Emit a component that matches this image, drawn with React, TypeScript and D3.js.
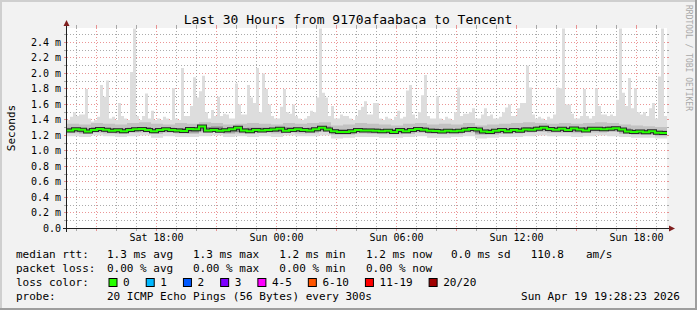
import React from "react";
import * as d3 from "d3";

const W = 697;
const H = 310;

// time window (30 hours)
const startTime = new Date(2026, 3, 18, 13, 31, 30);
const endTime = new Date(2026, 3, 19, 19, 31, 30);

// max ping per 9-minute bucket (ms)
const maxMs = [
  1.40, 1.44, 1.50, 1.45, 1.47, 1.47, 1.80, 1.42, 1.38, 1.40,
  1.44, 1.85, 1.70, 1.91, 1.42, 1.44, 1.40, 1.62, 1.45, 1.42,
  1.40, 2.02, 2.58, 1.45, 1.40, 1.45, 1.74, 1.42, 1.52, 1.40,
  1.42, 1.40, 1.44, 1.42, 1.40, 1.81, 1.42, 1.40, 2.07, 1.45,
  1.45, 1.58, 1.95, 1.69, 1.77, 1.97, 1.50, 1.42, 1.53, 1.45,
  1.70, 1.45, 1.48, 1.47, 1.42, 1.42, 1.87, 1.60, 1.47, 1.47,
  1.85, 1.69, 1.62, 2.07, 1.50, 2.00, 1.80, 1.60, 1.45, 1.42,
  1.42, 1.57, 1.80, 1.50, 1.48, 1.60, 1.45, 1.42, 1.40, 1.42,
  1.45, 1.52, 1.50, 1.69, 2.58, 1.75, 1.69, 1.45, 1.58, 1.42,
  1.42, 1.47, 1.45, 1.45, 1.42, 1.40, 1.45, 1.53, 1.57, 1.64,
  1.47, 1.47, 1.62, 1.62, 1.42, 1.40, 1.44, 1.42, 1.40, 1.44,
  1.52, 1.42, 1.44, 1.78, 1.85, 1.47, 1.42, 1.50, 1.72, 1.98,
  1.45, 1.42, 1.42, 1.71, 1.42, 1.40, 1.44, 1.42, 1.40, 1.50,
  1.82, 1.45, 1.48, 1.48, 1.50, 1.55, 1.42, 1.42, 1.47, 1.55,
  1.45, 1.47, 1.42, 1.42, 1.44, 1.50, 1.56, 1.60, 1.45, 1.45,
  1.55, 1.62, 1.62, 2.10, 1.82, 1.47, 1.42, 1.44, 1.42, 1.40,
  1.44, 1.42, 1.47, 1.82, 1.81, 2.58, 1.60, 1.60, 1.48, 1.42,
  1.42, 1.45, 1.80, 1.45, 1.42, 1.45, 1.81, 1.58, 1.47, 1.47,
  1.45, 1.47, 1.45, 1.66, 2.58, 1.75, 1.58, 1.94, 1.55, 1.81,
  1.50, 1.47, 1.50, 1.45, 1.55, 1.62, 1.42, 1.96, 2.58, 1.45,
];

// median rtt per 18-minute bucket (ms)
const medianMs = [
  1.265, 1.28, 1.275, 1.25, 1.27, 1.285, 1.275, 1.262, 1.268, 1.255,
  1.27, 1.28, 1.285, 1.27, 1.255, 1.272, 1.28, 1.272, 1.265, 1.258,
  1.285, 1.28, 1.315, 1.265, 1.272, 1.26, 1.268, 1.28, 1.30, 1.265,
  1.255, 1.272, 1.265, 1.272, 1.278, 1.286, 1.262, 1.27, 1.28, 1.272,
  1.265, 1.28, 1.30, 1.278, 1.255, 1.245, 1.245, 1.255, 1.272, 1.265,
  1.265, 1.262, 1.255, 1.262, 1.245, 1.272, 1.255, 1.272, 1.285, 1.273,
  1.262, 1.258, 1.252, 1.26, 1.255, 1.262, 1.273, 1.285, 1.278, 1.25,
  1.245, 1.262, 1.272, 1.255, 1.272, 1.26, 1.278, 1.273, 1.286, 1.30,
  1.282, 1.273, 1.286, 1.27, 1.29, 1.278, 1.265, 1.286, 1.286, 1.28,
  1.286, 1.292, 1.278, 1.252, 1.245, 1.25, 1.243, 1.255, 1.234, 1.232,
];

// smoke bands per 36-minute bucket (ms)
const p90Ms = [
  1.35, 1.34, 1.36, 1.35, 1.34, 1.36, 1.37, 1.35, 1.34, 1.36,
  1.35, 1.37, 1.36, 1.34, 1.35, 1.36, 1.35, 1.34, 1.36, 1.35,
  1.36, 1.37, 1.33, 1.34, 1.36, 1.35, 1.34, 1.33, 1.35, 1.36,
  1.34, 1.35, 1.34, 1.36, 1.33, 1.34, 1.35, 1.36, 1.37, 1.36,
  1.35, 1.36, 1.35, 1.36, 1.37, 1.36, 1.34, 1.33, 1.32, 1.31,
];
const p75Ms = [
  1.30, 1.29, 1.305, 1.295, 1.29, 1.30, 1.31, 1.29, 1.30, 1.295,
  1.29, 1.31, 1.315, 1.29, 1.295, 1.30, 1.30, 1.29, 1.305, 1.295,
  1.30, 1.315, 1.28, 1.28, 1.295, 1.29, 1.285, 1.285, 1.29, 1.305,
  1.29, 1.285, 1.285, 1.31, 1.275, 1.28, 1.29, 1.295, 1.31, 1.315,
  1.305, 1.305, 1.30, 1.31, 1.31, 1.315, 1.29, 1.275, 1.275, 1.26,
];
const p25Ms = [
  1.25, 1.24, 1.255, 1.245, 1.24, 1.25, 1.26, 1.242, 1.255, 1.245,
  1.24, 1.26, 1.268, 1.24, 1.245, 1.248, 1.252, 1.245, 1.255, 1.245,
  1.252, 1.265, 1.228, 1.228, 1.245, 1.242, 1.235, 1.236, 1.242, 1.256,
  1.238, 1.234, 1.236, 1.26, 1.226, 1.23, 1.242, 1.248, 1.26, 1.268,
  1.255, 1.256, 1.25, 1.26, 1.26, 1.266, 1.242, 1.224, 1.226, 1.21,
];
const p10Ms = [
  1.23, 1.22, 1.235, 1.225, 1.22, 1.235, 1.24, 1.22, 1.235, 1.225,
  1.22, 1.24, 1.245, 1.22, 1.225, 1.23, 1.235, 1.225, 1.235, 1.225,
  1.23, 1.245, 1.21, 1.21, 1.225, 1.22, 1.215, 1.215, 1.22, 1.235,
  1.22, 1.215, 1.215, 1.24, 1.205, 1.21, 1.22, 1.225, 1.24, 1.245,
  1.235, 1.235, 1.23, 1.24, 1.24, 1.245, 1.22, 1.205, 1.205, 1.19,
];
const minMs = [
  1.19, 1.18, 1.20, 1.19, 1.18, 1.19, 1.20, 1.17, 1.19, 1.18,
  1.18, 1.19, 1.20, 1.18, 1.19, 1.18, 1.19, 1.18, 1.20, 1.19,
  1.19, 1.20, 1.16, 1.17, 1.18, 1.18, 1.17, 1.17, 1.18, 1.19,
  1.17, 1.17, 1.18, 1.19, 1.16, 1.17, 1.18, 1.18, 1.19, 1.20,
  1.19, 1.19, 1.18, 1.19, 1.20, 1.19, 1.18, 1.17, 1.17, 1.16,
];

const yMaxMs = 2.58;
const yTickValues = [0, 0.2, 0.4, 0.6, 0.8, 1.0, 1.2, 1.4, 1.6, 1.8, 2.0, 2.2, 2.4];

const title = "Last 30 Hours from 9170afaabaca to Tencent";
const yLabel = "Seconds";
const credit = "RRDTOOL / TOBI OETIKER";

const rttLabel = "median rtt:";
const rttStats = ["1.3 ms avg", "1.3 ms max", "1.2 ms min", "1.2 ms now", "0.0 ms sd", "110.8", "am/s"];
const lossLabel = "packet loss:";
const lossStats = ["0.00 % avg", "0.00 % max", "0.00 % min", "0.00 % now"];
const colorLabel = "loss color:";
const lossLabels = ["0", "1", "2", "3", "4-5", "6-10", "11-19", "20/20"];
const lossColors = ["#26ff00", "#00b8ff", "#0059ff", "#7e00ff", "#ff00ff", "#ff5500", "#ff0000", "#a00000"];
const probeLabel = "probe:";
const probeText = "20 ICMP Echo Pings (56 Bytes) every 300s";
const dateText = "Sun Apr 19 19:28:23 2026";

// layout
const X0 = 67;
const X1 = 667;
const Y0 = 228.5;
const Y1 = 28.5;
const statCols = [107, 193, 279.3, 366, 451, 530.7, 586];
const FONT = "'DejaVu Sans Mono', monospace";

type Pt = { t: Date; lo: number; hi: number };

function stepPoints(hi: number[], lo: (i: number) => number): Pt[] {
  const n = hi.length;
  const dt = (endTime.getTime() - startTime.getTime()) / n;
  const pts: Pt[] = hi.map((v, i) => ({ t: new Date(startTime.getTime() + i * dt), lo: lo(i), hi: v }));
  pts.push({ t: endTime, lo: lo(n - 1), hi: hi[n - 1] });
  return pts;
}

export default function App() {
  const x = d3.scaleTime().domain([startTime, endTime]).range([X0, X1]);
  const y = d3.scaleLinear().domain([0, yMaxMs]).range([Y0, Y1]);

  const area = d3
    .area<Pt>()
    .x((d) => x(d.t))
    .y0((d) => y(d.lo))
    .y1((d) => y(d.hi))
    .curve(d3.curveStepAfter);
  const line = d3
    .line<Pt>()
    .x((d) => x(d.t))
    .y((d) => y(d.hi))
    .curve(d3.curveStepAfter);

  const lightPts = stepPoints(maxMs, (i) => minMs[Math.floor((i * minMs.length) / maxMs.length)]);
  const midPts = stepPoints(p90Ms, (i) => p10Ms[i]);
  const darkPts = stepPoints(p75Ms, (i) => p25Ms[i]);
  const medPts = stepPoints(medianMs, () => 0);

  const hGrid = d3.range(1, 26).map((i) => ({ v: i / 10, major: i % 2 === 0 }));
  const hours = d3.timeHour.range(d3.timeHour.ceil(startTime), endTime);
  const fmt = d3.timeFormat("%a %H:%M");

  const gridMinor = "rgba(143,143,143,0.75)";
  const gridMajor = "rgba(222,80,80,0.6)";

  // legend box positions derived from label widths
  const charW = 6.62;
  let bx = 108.5;
  const boxes = lossLabels.map((lab, i) => {
    const cur = bx;
    bx = cur + 14.6 + lab.length * charW + 16;
    return { x: cur, lab, color: lossColors[i] };
  });

  const rowY = [257.5, 271.5, 285.5, 299.5];

  return (
    <svg
      width={W}
      height={H}
      style={{ position: "absolute", left: 0, top: 0, display: "block" }}
      fontFamily={FONT}
    >
      <defs>
        <clipPath id="plot">
          <rect x={X0} y={28} width={X1 - X0} height={200.5} />
        </clipPath>
      </defs>
      <rect x={0} y={0} width={W} height={H} fill="#f2f2f2" />
      {/* 3D border */}
      <rect x={0} y={0} width={W} height={2} fill="#cfcfcf" />
      <rect x={0} y={0} width={2} height={H} fill="#cfcfcf" />
      <rect x={0} y={H - 2} width={W} height={2} fill="#9e9e9e" />
      <rect x={W - 2} y={0} width={2} height={H} fill="#9e9e9e" />

      <rect x={X0} y={28} width={X1 - X0} height={200} fill="#ffffff" />

      {/* horizontal grid (behind data) */}
      {hGrid.map((g) => {
        const yy = Math.round(y(g.v) - 0.5) + 0.5;
        const c = g.major ? gridMajor : gridMinor;
        return (
          <g key={"h" + g.v}>
            <line x1={X0} x2={X1} y1={yy} y2={yy} stroke={c} strokeDasharray="1 2" />
            <line x1={X0 - 3} x2={X0} y1={yy} y2={yy} stroke={c} />
            <line x1={X1} x2={X1 + 2} y1={yy} y2={yy} stroke={c} />
          </g>
        );
      })}
      {/* vertical grid */}
      {hours.map((h) => {
        const xx = Math.floor(x(h)) + 0.5;
        const major = h.getHours() % 3 === 0;
        const c = major ? gridMajor : gridMinor;
        return (
          <g key={"v" + h.getTime()}>
            <line x1={xx} x2={xx} y1={28} y2={228} stroke={c} strokeDasharray="1 2" />
            <line x1={xx} x2={xx} y1={228} y2={231} stroke={c} />
            <line x1={xx} x2={xx} y1={25} y2={28} stroke={c} />
          </g>
        );
      })}

      <g clipPath="url(#plot)">
        <path d={area(lightPts) || ""} fill="#dddddd" />
        <path d={area(midPts) || ""} fill="#c2c2c2" />
        <path d={area(darkPts) || ""} fill="#8a8a8a" />
        <path d={line(medPts) || ""} fill="none" stroke="#2a2a2a" strokeWidth={4} />
        <path d={line(medPts) || ""} fill="none" stroke="#26ff00" strokeWidth={2} />
      </g>

      {/* axes */}
      <line x1={66.5} x2={66.5} y1={232} y2={22} stroke="#1f1f1f" />
      <line x1={63} x2={671} y1={228.5} y2={228.5} stroke="#1f1f1f" />
      <polygon points="63.5,26 69.5,26 66.5,20" fill="#801f1f" />
      <polygon points="669,225.5 669,231.5 675,228.5" fill="#801f1f" />

      {/* y tick labels */}
      {yTickValues.map((v) => (
        <text key={"yl" + v} x={61} y={Math.round(y(v) - 0.5) + 4} fontSize={10} textAnchor="end" fill="#000">
          {v === 0 ? "0.0" : v.toFixed(1) + " m"}
        </text>
      ))}
      {/* x tick labels */}
      {hours
        .filter((h) => h.getHours() % 6 === 0)
        .map((h) => (
          <text key={"xl" + h.getTime()} x={Math.floor(x(h)) + 0.5} y={240.5} fontSize={10} textAnchor="middle" fill="#000">
            {fmt(h)}
          </text>
        ))}

      <text x={348} y={23.5} fontSize={13} textAnchor="middle" fill="#000">
        {title}
      </text>
      <text transform="translate(14.5,128) rotate(-90)" fontSize={11} textAnchor="middle" fill="#000">
        {yLabel}
      </text>
      <text transform="translate(686,5) rotate(90)" fontSize={8} fill="#a8a8a8">
        {credit}
      </text>

      {/* legend */}
      <g fontSize={11} fill="#000">
        <text x={16} y={rowY[0]}>{rttLabel}</text>
        {rttStats.map((s, i) => (
          <text key={"r" + i} x={statCols[i]} y={rowY[0]}>
            {s}
          </text>
        ))}
        <text x={16} y={rowY[1]}>{lossLabel}</text>
        {lossStats.map((s, i) => (
          <text key={"l" + i} x={statCols[i]} y={rowY[1]}>
            {s}
          </text>
        ))}
        <text x={16} y={rowY[2]}>{colorLabel}</text>
        {boxes.map((b) => (
          <g key={"b" + b.lab}>
            <rect x={b.x + 0.5} y={278.5} width={8} height={8} fill={b.color} stroke="#000" />
            <text x={b.x + 14.6} y={rowY[2]}>{b.lab}</text>
          </g>
        ))}
        <text x={16} y={rowY[3]}>{probeLabel}</text>
        <text x={107} y={rowY[3]}>{probeText}</text>
        <text x={680} y={rowY[3]} textAnchor="end">
          {dateText}
        </text>
      </g>
    </svg>
  );
}
